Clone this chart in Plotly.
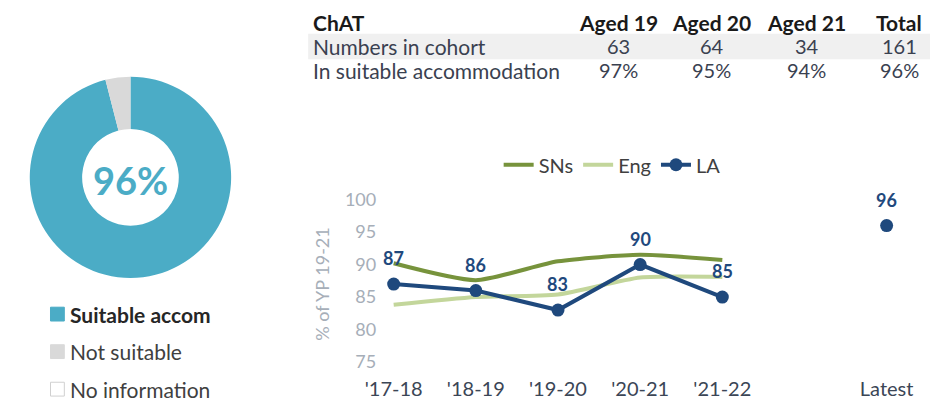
import plotly.graph_objects as go

# donut: share of care leavers aged 19-21 by accommodation status
pie_labels = ["Suitable accom", "Not suitable", "No information"]
pie_values = [96, 4, 0]
pie_colors = ["#4bacc6", "#d9d9d9", "#ffffff"]
headline = "96%"

# table
table_title = "ChAT"
table_cols = ["Aged 19", "Aged 20", "Aged 21", "Total"]
row_names = ["Numbers in cohort", "In suitable accommodation"]
cohort = ["63", "64", "34", "161"]
suitable_pct = ["97%", "95%", "94%", "96%"]

# trend lines
years = ["'17-18", "'18-19", "'19-20", "'20-21", "'21-22"]
sns = [90.2, 87.6, 90.5, 91.5, 90.7]
eng = [83.8, 85.0, 85.4, 88.0, 88.1]
la = [87, 86, 83, 90, 85]
latest_label = "Latest"
latest_value = 96

W, H = 932, 402
FONT = "Lato"
NAVY = "#1f497d"


def py(p):
    # pixel row from top -> paper y
    return 1 - p / H


fig = go.Figure()

fig.add_trace(go.Pie(
    labels=pie_labels, values=pie_values, hole=0.48, sort=False,
    direction="clockwise", rotation=0, textinfo="none",
    marker=dict(colors=pie_colors, line=dict(width=0)),
    domain=dict(x=[18 / W, 222 / W], y=[py(277), py(72)]),
    showlegend=False,
))

xi = list(range(len(years)))
latest_x = len(years) + 1

fig.add_trace(go.Scatter(
    x=xi, y=sns, name="SNs", mode="lines",
    line=dict(color="#77933c", width=4, shape="spline", smoothing=0.6),
))
fig.add_trace(go.Scatter(
    x=xi, y=eng, name="Eng", mode="lines",
    line=dict(color="#c3d69b", width=4, shape="spline", smoothing=0.6),
))
fig.add_trace(go.Scatter(
    x=xi, y=la, name="LA", mode="lines+markers", line=dict(color=NAVY, width=4),
    marker=dict(size=13, color=NAVY),
))
fig.add_trace(go.Scatter(
    x=[latest_x], y=[latest_value], mode="markers", showlegend=False,
    marker=dict(size=13, color=NAVY),
))

for x, v in zip(xi + [latest_x], la + [latest_value]):
    fig.add_annotation(x=x, y=v, text="<b>%d</b>" % v, showarrow=False, yshift=26,
                       font=dict(family=FONT, size=18, color=NAVY))

fig.update_xaxes(
    domain=[370 / W, 926 / W], range=[-0.2, 6.48],
    tickvals=xi + [latest_x], ticktext=years + [latest_label],
    showgrid=False, zeroline=False, showline=False, ticks="",
    tickfont=dict(family=FONT, size=20, color="#3b4656"),
)
fig.update_yaxes(
    domain=[py(374.7), py(190.4)], range=[73, 101],
    tickvals=[75, 80, 85, 90, 95, 100], showgrid=False, zeroline=False, showline=False,
    ticks="", tickfont=dict(family=FONT, size=18, color="#a6aeb8"),
    title=dict(text="% of YP 19-21", font=dict(family=FONT, size=18, color="#a6aeb8"), standoff=10),
)

# centre label of donut
fig.add_annotation(x=120 / W, y=py(177), xref="paper", yref="paper", showarrow=False,
                   xanchor="center", yanchor="middle",
                   text="<b>%s</b>" % headline, font=dict(family=FONT, size=38, color="#4bacc6"))

# donut legend
leg_y = [313, 351, 389]
leg_border = ["#4bacc6", "#d9d9d9", "#d0d0d0"]
for i, (lab, col, bc, yy) in enumerate(zip(pie_labels, pie_colors, leg_border, leg_y)):
    fig.add_shape(type="rect", xref="paper", yref="paper",
                  x0=39 / W, x1=53 / W, y0=py(yy + 7), y1=py(yy - 7),
                  fillcolor=col, line=dict(color=bc, width=1))
    fig.add_annotation(x=57 / W, y=py(yy), xref="paper", yref="paper",
                       xanchor="left", yanchor="middle", showarrow=False,
                       text="<b>%s</b>" % lab if i == 0 else lab,
                       font=dict(family=FONT, size=21, color="#262626" if i == 0 else "#404040"))

# table (header + two rows, first row shaded)
fig.add_shape(type="rect", xref="paper", yref="paper", layer="below",
              x0=300 / W, x1=930 / W, y0=py(55), y1=py(29),
              fillcolor="#f0f0f0", line=dict(width=0))
col_x = [614, 709, 805, 899]
row_y = [42, 66]
fig.add_annotation(x=303 / W, y=py(18), xref="paper", yref="paper", xanchor="left",
                   yanchor="middle", showarrow=False, text="<b>%s</b>" % table_title,
                   font=dict(family=FONT, size=21, color="#1a1a1a"))
for name, yy in zip(row_names, row_y):
    fig.add_annotation(x=303 / W, y=py(yy), xref="paper", yref="paper", xanchor="left",
                       yanchor="middle", showarrow=False, text=name,
                       font=dict(family=FONT, size=21, color="#3a4150"))
for c, cx in enumerate(col_x):
    fig.add_annotation(x=cx / W, y=py(18), xref="paper", yref="paper", xanchor="center",
                       yanchor="middle", showarrow=False, text="<b>%s</b>" % table_cols[c],
                       font=dict(family=FONT, size=21, color="#1a1a1a"))
    for vals, yy in zip([cohort, suitable_pct], row_y):
        fig.add_annotation(x=cx / W, y=py(yy), xref="paper", yref="paper", xanchor="center",
                           yanchor="middle", showarrow=False, text=vals[c],
                           font=dict(family=FONT, size=20, color="#3a4150"))

fig.update_layout(
    width=W, height=H, margin=dict(l=0, r=0, t=0, b=0),
    paper_bgcolor="white", plot_bgcolor="white",
    font=dict(family=FONT),
    legend=dict(orientation="h", x=493 / W, y=py(142), xanchor="left", yanchor="top",
                font=dict(family=FONT, size=20, color="#404040"), itemwidth=30),
)

pin = ("document.body.style.margin='0';document.body.style.padding='0';"
       "var d=document.getElementById('{plot_id}');"
       "d.style.position='absolute';d.style.left='0px';d.style.top='0px';")
fig.write_html("out.html", config={"displayModeBar": False}, post_script=pin)
